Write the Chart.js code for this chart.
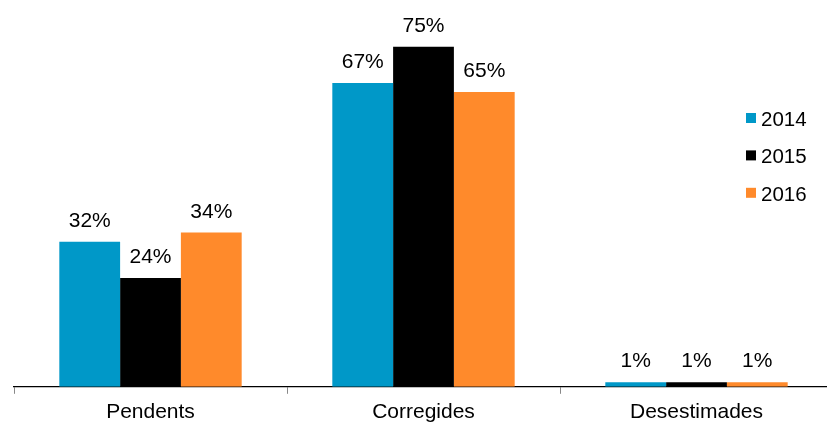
<!DOCTYPE html>
<html>
<head>
<meta charset="utf-8">
<script src="https://cdn.jsdelivr.net/npm/chart.js@4/dist/chart.umd.min.js"></script>
<style>
  html, body { margin: 0; padding: 0; background: #fff; overflow: hidden; }
  #wrap { position: absolute; left: 0; top: 0; width: 840px; height: 431px; }
</style>
</head>
<body>
<div id="wrap"><canvas id="c"></canvas></div>
<script>
const categories = ['Pendents', 'Corregides', 'Desestimades'];
const seriesNames = ['2014', '2015', '2016'];
const values2014 = [32, 67, 1];
const values2015 = [24, 75, 1];
const values2016 = [34, 65, 1];
const seriesColors = ['#0098C8', '#000000', '#FF8A2B'];

const FONT = '"Liberation Sans", Arial, sans-serif';

const labelPlugin = {
  id: 'valueLabels',
  afterDatasetsDraw(chart) {
    const ctx = chart.ctx;
    ctx.save();
    ctx.font = '21px ' + FONT;
    ctx.fillStyle = '#000';
    ctx.textAlign = 'center';
    ctx.textBaseline = 'alphabetic';
    chart.data.datasets.forEach((ds, i) => {
      chart.getDatasetMeta(i).data.forEach((bar, j) => {
        ctx.fillText(ds.data[j] + '%', bar.x, bar.y - 15);
      });
    });
    ctx.restore();
  }
};

const legendPlugin = {
  id: 'customLegend',
  afterDraw(chart) {
    const ctx = chart.ctx;
    ctx.save();
    ctx.font = '20.5px ' + FONT;
    ctx.textAlign = 'left';
    ctx.textBaseline = 'alphabetic';
    const baseX = 746, baseY = 126, step = 37.4;
    chart.data.datasets.forEach((ds, i) => {
      const y = baseY + i * step;
      ctx.fillStyle = ds.backgroundColor;
      ctx.fillRect(baseX, y - 13, 10, 10);
      ctx.fillStyle = '#000';
      ctx.fillText(ds.label, baseX + 15, y);
    });
    ctx.restore();
  }
};

const seriesValues = [values2014, values2015, values2016];

new Chart(document.getElementById('c'), {
  type: 'bar',
  data: {
    labels: categories,
    datasets: seriesNames.map((name, i) => ({
      label: name,
      data: seriesValues[i],
      backgroundColor: seriesColors[i],
      borderWidth: 0,
      categoryPercentage: 0.668,
      barPercentage: 1.0
    }))
  },
  options: {
    responsive: true,
    maintainAspectRatio: false,
    animation: false,
    layout: { padding: { left: 14, right: 7, top: 24, bottom: 0 } },
    plugins: { legend: { display: false }, tooltip: { enabled: false } },
    scales: {
      x: {
        offset: true,
        grid: { display: true, offset: true, drawOnChartArea: false, tickLength: 7, color: '#888' },
        border: { display: true, color: '#000', width: 1.3 },
        ticks: { color: '#000', font: { family: FONT, size: 21 }, padding: 6, maxRotation: 0 }
      },
      y: {
        display: false,
        min: 0,
        max: 80
      }
    }
  },
  plugins: [labelPlugin, legendPlugin]
});
</script>
</body>
</html>
